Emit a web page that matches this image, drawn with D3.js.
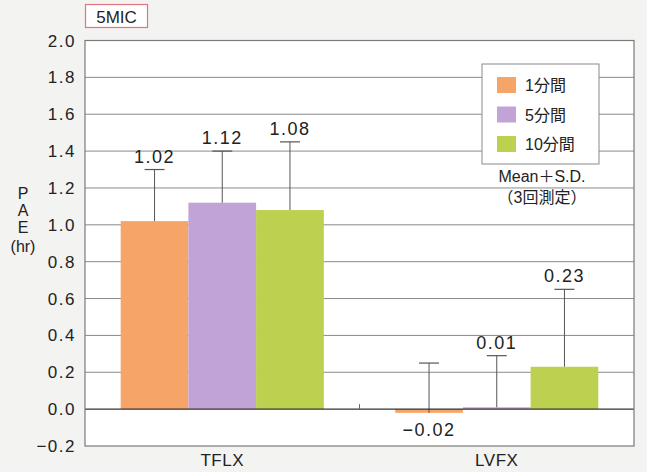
<!DOCTYPE html>
<html>
<head>
<meta charset="utf-8">
<script src="https://cdn.jsdelivr.net/npm/d3@7"></script>
<style>
  html, body { margin: 0; padding: 0; background: #f3f3f1; }
  svg { display: block; }
</style>
</head>
<body>
<div id="chart"></div>
<script>
// PAE (hr) at 5MIC · TFLX / LVFX · 1/5/10分間 · Mean+S.D.
const categories = ["TFLX", "LVFX"];
const seriesNames = ["1分間", "5分間", "10分間"];
const seriesColors = ["#f7a468", "#c2a3d7", "#bdd04f"];
const meanTFLX = [1.02, 1.12, 1.08];
const meanLVFX = [-0.02, 0.01, 0.23];
const sdTFLX = [0.28, 0.28, 0.37];
const sdLVFX = [0.27, 0.28, 0.42];
const labelTFLX = ["1.02", "1.12", "1.08"];
const labelLVFX = ["\u22120.02", "0.01", "0.23"];
const yTicks = [-0.2, 0, 0.2, 0.4, 0.6, 0.8, 1.0, 1.2, 1.4, 1.6, 1.8, 2.0];

const rows = [
  { cat: "TFLX", mean: meanTFLX, sd: sdTFLX, lab: labelTFLX },
  { cat: "LVFX", mean: meanLVFX, sd: sdLVFX, lab: labelLVFX },
];

const W = 647, H = 472, ML = 85, MR = 13, TOP = 40.5, BOT = 26;
const FONT = `"Liberation Sans", Arial, "Noto Sans CJK JP", sans-serif`;

const y = d3.scaleLinear().domain([-0.2, 2.0]).range([H - BOT, TOP]);
const x0 = d3.scaleBand().domain(categories).range([ML, W - MR]).paddingInner(0.26).paddingOuter(0.13);
const x1 = d3.scaleBand().domain(seriesNames).range([0, x0.bandwidth()]);

const svg = d3.select("#chart").append("svg").attr("width", W).attr("height", H);

// plot background
svg.append("rect").attr("x", ML).attr("y", TOP).attr("width", W - MR - ML).attr("height", H - BOT - TOP)
  .attr("fill", "#fff");

// grid
yTicks.filter(v => v > -0.2 && v < 2.0 && v !== 0).forEach(v => {
  svg.append("line").attr("x1", ML).attr("x2", W - MR).attr("y1", y(v)).attr("y2", y(v))
    .attr("stroke", "#8a8a8a").attr("stroke-width", 1);
});

// y tick labels
yTicks.forEach(v => {
  svg.append("text").attr("x", 76).attr("y", y(v) + 6)
    .attr("text-anchor", "end")
    .attr("style", `font:17px ${FONT};fill:#222;letter-spacing:1.5px`)
    .text(v < 0 ? "\u2212" + Math.abs(v).toFixed(1) : v.toFixed(1));
});

// bars
const groups = svg.append("g").selectAll("g.cat").data(rows).join("g")
  .attr("transform", d => `translate(${x0(d.cat)},0)`);

groups.each(function (d) {
  const g = d3.select(this);
  seriesNames.forEach((s, i) => {
    const v = d.mean[i];
    const bx = x1(s), bw = x1.bandwidth();
    g.append("rect").attr("x", bx).attr("width", bw)
      .attr("y", y(Math.max(0, v))).attr("height", Math.abs(y(v) - y(0)))
      .attr("fill", seriesColors[i]);
  });
});

// zero line on top of bars
svg.append("line").attr("x1", ML).attr("x2", W - MR).attr("y1", y(0)).attr("y2", y(0))
  .attr("stroke", "#333").attr("stroke-width", 1.2);
// category separator tick
svg.append("line").attr("x1", x0.step() + ML).attr("x2", x0.step() + ML)
  .attr("y1", y(0) - 5).attr("y2", y(0)).attr("stroke", "#666").attr("stroke-width", 1);

// error bars + value labels
groups.each(function (d) {
  const g = d3.select(this);
  seriesNames.forEach((s, i) => {
    const v = d.mean[i], top = v + d.sd[i];
    const cx = x1(s) + x1.bandwidth() / 2;
    g.append("line").attr("x1", cx).attr("x2", cx).attr("y1", y(v)).attr("y2", y(top))
      .attr("stroke", "#555").attr("stroke-width", 1);
    g.append("line").attr("x1", cx - 10).attr("x2", cx + 10).attr("y1", y(top)).attr("y2", y(top))
      .attr("stroke", "#555").attr("stroke-width", 1.2);
    const below = v < 0;
    g.append("text").attr("x", cx).attr("y", below ? y(v) + 23 : y(top) - 7)
      .attr("text-anchor", "middle")
      .attr("style", `font:18px ${FONT};fill:#222;letter-spacing:1.5px`)
      .text(d.lab[i]);
  });
});

// frame
svg.append("rect").attr("x", ML).attr("y", TOP).attr("width", W - MR - ML).attr("height", H - BOT - TOP)
  .attr("fill", "none").attr("stroke", "#7a7a7a").attr("stroke-width", 1.2);

// category labels
categories.forEach(c => {
  svg.append("text").attr("x", x0(c) + x0.bandwidth() / 2).attr("y", 466)
    .attr("text-anchor", "middle")
    .attr("style", `font:17px ${FONT};fill:#222;letter-spacing:0.5px`).text(c);
});

// y axis title (stacked)
[["P", 199], ["A", 216], ["E", 233], ["(hr)", 252]].forEach(([t, yy]) => {
  svg.append("text").attr("x", 23).attr("y", yy).attr("text-anchor", "middle")
    .attr("style", `font:16px ${FONT};fill:#222`).text(t);
});

// legend
const lg = svg.append("g");
lg.append("rect").attr("x", 482).attr("y", 64).attr("width", 117).attr("height", 100)
  .attr("fill", "#fff").attr("stroke", "#8a8a8a").attr("stroke-width", 1);
seriesNames.forEach((s, i) => {
  lg.append("rect").attr("x", 497).attr("y", 77 + i * 29.5).attr("width", 19).attr("height", 16)
    .attr("fill", seriesColors[i]);
  lg.append("text").attr("x", 525).attr("y", 91 + i * 29.5)
    .attr("style", `font:16px ${FONT};fill:#222`).text(s);
});
lg.append("text").attr("x", 542).attr("y", 182).attr("text-anchor", "middle")
  .attr("style", `font:16px ${FONT};fill:#222`).text("Mean\uff0bS.D.");
lg.append("text").attr("x", 542).attr("y", 203).attr("text-anchor", "middle")
  .attr("style", `font:16px ${FONT};fill:#222`).text("\uff083回測定\uff09");

// title box
svg.append("rect").attr("x", 85.5).attr("y", 4.5).attr("width", 62).attr("height", 23)
  .attr("fill", "#fff").attr("stroke", "#e0767e").attr("stroke-width", 1.2);
svg.append("text").attr("x", 116.5).attr("y", 22.5).attr("text-anchor", "middle")
  .attr("style", `font:17px ${FONT};fill:#222`).text("5MIC");
</script>
</body>
</html>
